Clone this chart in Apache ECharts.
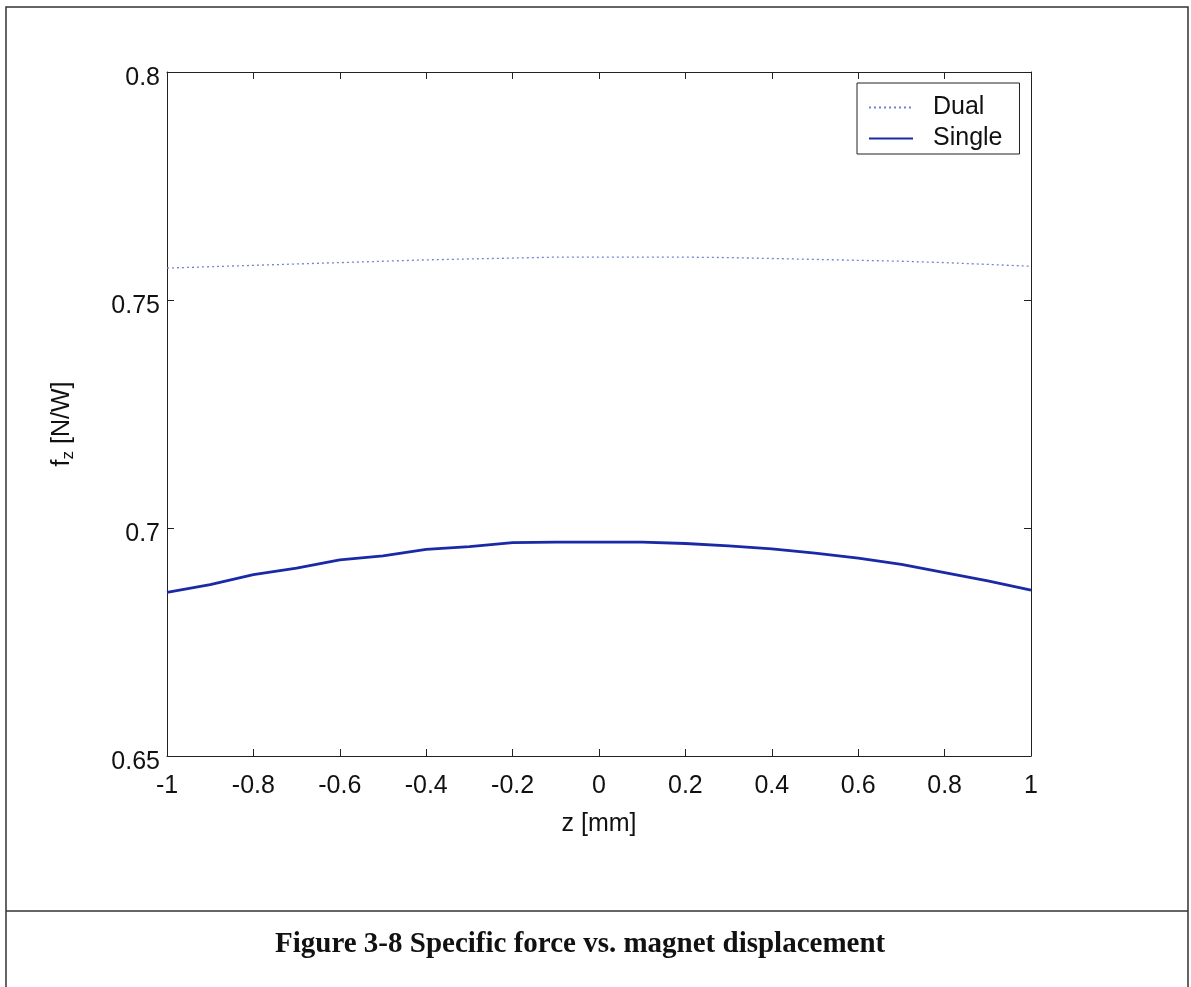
<!DOCTYPE html>
<html>
<head>
<meta charset="utf-8">
<title>Specific force vs. magnet displacement</title>
<script src="https://cdn.jsdelivr.net/npm/echarts@6/dist/echarts.min.js"></script>
<style>
  html, body { margin: 0; padding: 0; background: #ffffff; }
  #chart { width: 1191px; height: 987px; }
</style>
</head>
<body>
<div id="chart"></div>
<script>
// Magnet displacement z [mm]
const zValues = [-1.0, -0.9, -0.8, -0.7, -0.6, -0.5, -0.4, -0.3, -0.2, -0.1,
                 0.0, 0.1, 0.2, 0.3, 0.4, 0.5, 0.6, 0.7, 0.8, 0.9, 1.0];

// Specific force f_z [N/W], dual-magnet configuration
const dualForce = [0.7570, 0.7573, 0.7576, 0.7579, 0.7582, 0.7585, 0.7588, 0.7590, 0.7592, 0.7594,
                   0.7594, 0.7594, 0.7594, 0.7593, 0.7591, 0.7589, 0.7587, 0.7585, 0.7582, 0.7578, 0.7574];

// Specific force f_z [N/W], single-magnet configuration
const singleForce = [0.6859, 0.6876, 0.6898, 0.6912, 0.6930, 0.6939, 0.6953, 0.6959, 0.6968, 0.6969,
                     0.6969, 0.6969, 0.6966, 0.6961, 0.6954, 0.6945, 0.6934, 0.6920, 0.6902, 0.6884, 0.6864];

const seriesNames = ['Dual', 'Single'];
const xTicks = { min: -1, max: 1, step: 0.2 };
const yTicks = { min: 0.65, max: 0.8, step: 0.05 };
const captionText = 'Figure 3-8 Specific force vs. magnet displacement';

const pairs = (xs, ys) => xs.map((x, i) => [x, ys[i]]);

const FONT = '"Liberation Sans", Arial, Helvetica, sans-serif';
const AXIS_COLOR = '#222222';

function fmtTick(v) {
  return String(parseFloat(v.toFixed(4)));
}

const baseX = {
  type: 'value',
  min: xTicks.min, max: xTicks.max, interval: xTicks.step,
  splitLine: { show: false },
  axisLine: { onZero: false, lineStyle: { color: AXIS_COLOR, width: 1 } },
  axisTick: { inside: true, length: 7, lineStyle: { color: AXIS_COLOR } }
};
const baseY = {
  type: 'value',
  min: yTicks.min, max: yTicks.max, interval: yTicks.step,
  splitLine: { show: false },
  axisLine: { onZero: false, lineStyle: { color: AXIS_COLOR, width: 1 } },
  axisTick: { inside: true, length: 7, lineStyle: { color: AXIS_COLOR } }
};

const chart = echarts.init(document.getElementById('chart'), null, { renderer: 'canvas' });

chart.setOption({
  animation: false,
  backgroundColor: '#ffffff',
  grid: { left: 167, top: 72, right: 160, bottom: 231, containLabel: false },
  title: {
    text: captionText,
    left: 270,
    top: 925,
    textStyle: {
      fontFamily: '"Liberation Serif", "Times New Roman", serif',
      fontWeight: 'bold',
      fontSize: 29,
      color: '#111111'
    }
  },
  legend: {
    data: seriesNames,
    orient: 'vertical',
    left: 857,
    top: 83,
    itemWidth: 44,
    itemHeight: 14,
    itemGap: 6,
    padding: [12, 17, 3, 11],
    borderColor: '#222222',
    borderWidth: 1,
    backgroundColor: '#ffffff',
    // line sample only, no marker dot
    itemStyle: { opacity: 0, borderWidth: 0 },
    textStyle: { fontFamily: FONT, fontSize: 25, color: '#111111', padding: [0, 0, 0, 15] }
  },
  xAxis: [
    Object.assign({}, baseX, {
      position: 'bottom',
      name: 'z [mm]',
      nameLocation: 'middle',
      nameGap: 56,
      nameTextStyle: { fontFamily: FONT, fontSize: 25, color: '#111111' },
      axisLabel: { margin: 18, fontFamily: FONT, fontSize: 25, color: '#111111', formatter: fmtTick }
    }),
    Object.assign({}, baseX, {
      position: 'top',
      axisLabel: { show: false }
    })
  ],
  yAxis: [
    Object.assign({}, baseY, {
      position: 'left',
      name: 'f{sub|z} [N/W]',
      nameLocation: 'middle',
      nameGap: 92,
      nameRotate: 90,
      nameTextStyle: {
        fontFamily: FONT, fontSize: 25, color: '#111111',
        padding: [0, 20, 0, 0],
        rich: {
          sub: { fontFamily: FONT, fontSize: 17, color: '#111111', padding: [0, 0, -12, 0] }
        }
      },
      axisLabel: {
        margin: 7, fontFamily: FONT, fontSize: 25, color: '#111111',
        formatter: v => '{v|' + fmtTick(v) + '}',
        rich: { v: { fontFamily: FONT, fontSize: 25, color: '#111111', padding: [12, 0, 0, 0] } }
      }
    }),
    Object.assign({}, baseY, {
      position: 'right',
      axisLabel: { show: false }
    })
  ],
  series: [
    {
      name: 'Dual',
      type: 'line',
      xAxisIndex: 0, yAxisIndex: 0,
      data: pairs(zValues, dualForce),
      symbol: 'none',
      showSymbol: false,
      smooth: false,
      lineStyle: { color: '#7482d2', width: 1.3, type: [2, 3] },
      itemStyle: { color: '#7482d2' }
    },
    {
      name: 'Single',
      type: 'line',
      xAxisIndex: 0, yAxisIndex: 0,
      data: pairs(zValues, singleForce),
      symbol: 'none',
      showSymbol: false,
      smooth: false,
      lineStyle: { color: '#1a2aa6', width: 2.8 },
      itemStyle: { color: '#1a2aa6' }
    }
  ],
  graphic: [
    {
      type: 'rect',
      shape: { x: 6, y: 7, width: 1182, height: 1000 },
      style: { fill: 'none', stroke: '#333333', lineWidth: 1.5 },
      silent: true, z: -1
    },
    {
      type: 'line',
      shape: { x1: 6, y1: 911, x2: 1188, y2: 911 },
      style: { stroke: '#333333', lineWidth: 1.5 },
      silent: true
    }
  ]
});
</script>
</body>
</html>
